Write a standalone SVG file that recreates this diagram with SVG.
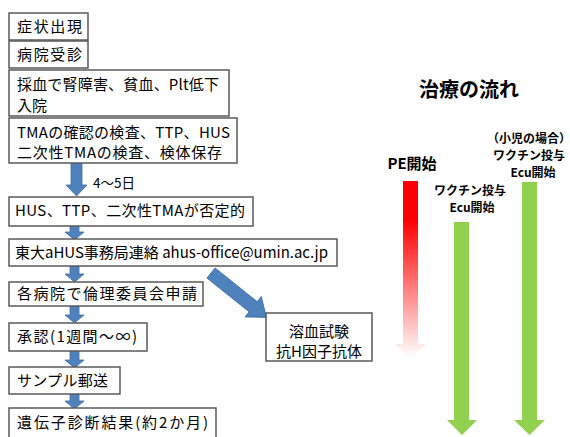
<svg xmlns="http://www.w3.org/2000/svg" width="570" height="437" viewBox="0 0 570 437">
<defs>
<style>
.box{fill:#fff;stroke:#595959;stroke-width:1.5}
.t{font-family:"Noto Sans CJK JP","Noto Sans",sans-serif;font-size:15px;fill:#000}
.b{font-family:"Noto Sans CJK JP","Noto Sans",sans-serif;font-weight:bold;fill:#000}
.s{font-size:12px}
.blue{fill:#4F81BD;stroke:#3F6FA6;stroke-width:0.8}
.green{fill:#92D050}
</style>
<linearGradient id="redfade" gradientUnits="userSpaceOnUse" x1="0" y1="181" x2="0" y2="358">
<stop offset="0" stop-color="#FF0000"/>
<stop offset="0.22" stop-color="#FF0000"/>
<stop offset="1" stop-color="#FF0000" stop-opacity="0"/>
</linearGradient>
</defs>
<rect width="570" height="437" fill="#fff"/>

<g id="connectors">
<polygon class="blue" points="71,163 82,163 82,185 87,185 76.5,196 66,185 71,185"/>
<polygon class="blue" points="70,226 79,226 79,232 84,232 74.5,240 65,232 70,232"/>
<polygon class="blue" points="70,266 79,266 79,274 84,274 74.5,282 65,274 70,274"/>
<polygon class="blue" points="70,306 79,306 79,315 84,315 74.5,323 65,315 70,315"/>
<polygon class="blue" points="70,351 79,351 79,360 84,360 74.5,368 65,360 70,360"/>
<polygon class="blue" points="70,394 79,394 79,401 84,401 74.5,409 65,401 70,401"/>
<polygon class="blue" transform="translate(211,273) rotate(38.7)" points="0,-6.5 54,-6.5 54,-13 71,0 54,13 54,6.5 0,6.5"/>
<text class="t" x="93" y="188" style="font-size:13.5px">4～5日</text>
</g>

<g id="n1"><rect class="box" x="9" y="13" width="79" height="27"/><text class="t" x="17" y="32" textLength="65" lengthAdjust="spacing">症状出現</text></g>
<g id="n2"><rect class="box" x="9" y="41" width="79" height="27"/><text class="t" x="17" y="60" textLength="65" lengthAdjust="spacing">病院受診</text></g>
<g id="n3"><rect class="box" x="9" y="70" width="220" height="46"/><text class="t" x="17" y="90" textLength="202" lengthAdjust="spacing">採血で腎障害、貧血、Plt低下</text><text class="t" x="17" y="111">入院</text></g>
<g id="n4"><rect class="box" x="9" y="118" width="228" height="45"/><text class="t" x="17" y="138" textLength="213" lengthAdjust="spacing">TMAの確認の検査、TTP、HUS</text><text class="t" x="17" y="158" textLength="205" lengthAdjust="spacing">二次性TMAの検査、検体保存</text></g>
<g id="n5"><rect class="box" x="9" y="197" width="244" height="29"/><text class="t" x="15" y="216" textLength="230" lengthAdjust="spacing">HUS、TTP、二次性TMAが否定的</text></g>
<g id="n6"><rect class="box" x="9" y="239" width="328" height="27"/><text class="t" x="15" y="258" textLength="313" lengthAdjust="spacing">東大aHUS事務局連絡 ahus-office@umin.ac.jp</text></g>
<g id="n7"><rect class="box" x="9" y="282" width="194" height="24"/><text class="t" x="17" y="299" textLength="180" lengthAdjust="spacing">各病院で倫理委員会申請</text></g>
<g id="n8"><rect class="box" x="9" y="323" width="138" height="28"/><text class="t" x="17" y="342" textLength="120" lengthAdjust="spacing">承認(1週間～∞)</text></g>
<g id="n9"><rect class="box" x="9" y="367" width="111" height="27"/><text class="t" x="17" y="386" textLength="91" lengthAdjust="spacing">サンプル郵送</text></g>
<g id="n10"><rect class="box" x="9" y="408" width="207" height="40"/><text class="t" x="17" y="428" textLength="191" lengthAdjust="spacing">遺伝子診断結果(約2か月)</text></g>
<g id="n11"><rect class="box" x="266" y="313" width="106" height="48"/><text class="t" x="319" y="337" text-anchor="middle">溶血試験</text><text class="t" x="319" y="357" text-anchor="middle">抗H因子抗体</text></g>

<g id="treatment">
<text class="b" x="469" y="97" text-anchor="middle" style="font-size:20px">治療の流れ</text>
<text class="b" x="412" y="169" text-anchor="middle" style="font-size:15px">PE開始</text>
<text class="b s" x="529" y="143" text-anchor="middle">（小児の場合）</text>
<text class="b s" x="529" y="160" text-anchor="middle">ワクチン投与</text>
<text class="b s" x="533" y="177" text-anchor="middle">Ecu開始</text>
<text class="b s" x="470" y="195" text-anchor="middle">ワクチン投与</text>
<text class="b s" x="472" y="212" text-anchor="middle">Ecu開始</text>
<polygon fill="url(#redfade)" points="403,181 418,181 418,344 426,344 410.5,358 395,344 403,344"/>
<polygon class="green" points="454,222 469,222 469,420 477,420 462,435 447,420 454,420"/>
<polygon class="green" points="522,182 537,182 537,420 545,420 529.5,435 514,420 522,420"/>
</g>
</svg>
